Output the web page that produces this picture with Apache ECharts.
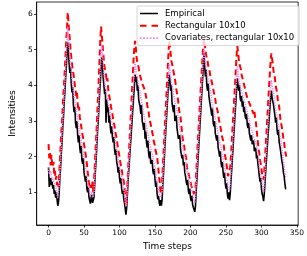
<!DOCTYPE html>
<html>
<head>
<meta charset="utf-8">
<script src="https://cdn.jsdelivr.net/npm/echarts@6/dist/echarts.min.js"></script>
<style>html,body{margin:0;padding:0;background:#fff}#c{width:307px;height:256px}</style>
</head>
<body>
<div id="c"></div>
<script>
// Time steps are 0..335 (index of each value)
var empirical = [
1.7,1.15,1.3,1.4,1.2,1.3,1.1,1.2,0.95,1.05,0.85,1.0,0.8,0.62,0.72,
1.0,1.4,1.7,2.1,2.4,2.8,3.1,3.5,3.8,4.2,4.5,4.9,5.2,
4.95,4.6,4.35,4.5,4.05,3.8,3.95,3.45,3.25,3.4,2.95,2.8,3.0,2.6,2.4,2.6,2.25,2.1,2.3,1.9,1.8,1.95,1.55,1.5,1.3,1.45,1.1,1.0,1.15,0.85,0.8,0.68,0.85,0.95,0.7,0.65,0.85,
1.2,1.6,1.9,2.3,2.7,3.0,3.4,3.8,4.1,4.5,4.8,
4.6,4.2,4.0,3.75,3.9,2.95,3.6,3.25,3.4,2.95,3.15,2.85,2.65,2.85,2.55,2.4,2.55,2.2,2.05,2.2,1.85,1.75,1.55,1.7,1.4,1.25,1.4,1.1,0.95,1.05,0.8,0.7,0.55,0.37,0.55,
0.9,1.3,1.6,1.9,2.2,2.5,2.8,3.1,3.4,3.7,4.0,4.3,
4.1,4.25,3.85,4.0,3.6,3.65,3.4,3.2,3.45,3.0,2.9,2.75,2.95,2.5,2.7,2.4,2.25,2.45,2.1,1.95,2.15,1.8,1.75,1.9,1.6,1.5,1.65,1.35,1.15,1.3,0.95,0.8,0.9,0.7,0.62,0.78,0.62,0.8,
1.2,1.55,1.9,2.3,2.65,3.0,3.35,3.7,4.05,4.3,
4.15,3.85,4.0,3.5,3.45,3.25,3.45,3.0,2.95,3.15,2.8,2.8,2.5,2.45,2.6,2.2,2.15,1.95,2.05,1.75,1.85,1.55,1.45,1.3,1.2,1.35,1.05,0.95,1.1,0.85,0.75,0.9,0.65,0.58,0.6,0.45,0.6,
1.0,1.35,1.7,2.05,2.4,2.75,3.1,3.45,3.8,4.15,4.5,4.9,
4.55,4.25,4.45,4.0,3.85,4.05,3.7,3.55,3.6,3.3,3.15,3.35,2.95,2.85,3.0,2.65,2.55,2.45,2.6,2.25,2.15,2.0,2.15,1.85,1.7,1.85,1.55,1.4,1.55,1.25,1.1,1.25,0.95,0.82,1.0,0.78,0.95,
1.3,1.6,1.95,2.25,2.6,2.9,3.25,3.55,3.9,4.2,
4.0,3.85,4.0,3.65,3.55,3.7,3.4,3.55,3.25,3.4,3.15,3.05,3.2,2.9,2.8,2.95,2.65,2.6,2.45,2.6,2.35,2.3,2.45,2.15,2.1,2.25,1.95,2.05,1.8,1.65,1.45,1.3,1.4,1.1,0.95,0.88,0.75,0.95,
1.25,1.6,1.9,2.2,2.5,2.8,3.1,3.4,3.65,3.85,
3.65,3.6,3.45,3.5,3.15,2.95,3.1,2.75,2.6,2.75,2.4,2.3,2.15,2.0,1.85,1.75,1.55,1.45,1.25,1.1,1.1
];
var rectangular = [
2.35,1.95,2.1,1.75,2.05,1.8,1.7,1.85,1.5,1.6,1.35,1.45,1.2,1.3,1.15,1.5,1.9,2.3,2.7,3.0,3.4,3.8,4.1,4.5,4.9,5.3,5.6,6.05,5.8,5.5,
5.3,5.0,4.8,4.6,4.45,4.5,4.2,4.0,3.9,3.7,3.8,3.5,3.3,3.4,3.1,3.0,2.85,2.9,2.6,2.5,2.35,2.4,2.1,1.95,1.8,1.6,1.4,1.25,1.1,1.05,
1.2,1.1,1.3,1.0,1.3,1.7,2.1,2.5,2.9,3.4,3.8,4.3,4.8,5.3,5.65,5.4,5.2,4.9,4.7,4.5,4.55,4.3,4.1,4.2,3.9,3.75,3.8,3.55,3.4,3.45,
3.2,3.05,3.1,2.85,2.7,2.75,2.5,2.35,2.2,2.25,2.0,1.85,1.9,1.65,1.5,1.55,1.3,1.1,0.85,0.6,0.8,1.2,1.6,2.0,2.4,2.8,3.2,3.6,4.0,4.4,
4.8,5.1,5.25,5.05,4.8,4.65,4.7,4.5,4.35,4.4,4.2,4.25,4.05,4.1,3.95,4.0,3.85,3.9,3.6,3.45,3.5,3.25,3.1,3.15,2.9,2.8,2.85,2.6,2.45,2.5,
2.3,2.15,2.2,2.0,1.8,1.6,1.4,1.2,0.95,1.05,1.3,1.7,2.1,2.5,2.9,3.3,3.7,4.1,4.5,4.9,5.25,5.1,4.9,4.7,4.75,4.5,4.4,4.45,4.2,4.05,
3.9,3.95,3.65,3.5,3.3,3.35,3.1,2.9,2.7,2.5,2.55,2.3,2.15,2.2,1.95,1.7,1.75,1.55,1.45,1.5,1.3,1.2,1.25,1.05,1.1,0.95,0.95,1.1,1.5,1.9,
2.3,2.65,3.0,3.4,3.75,4.1,4.45,4.8,5.1,5.3,5.15,5.0,4.85,4.9,4.7,4.55,4.6,4.4,4.25,4.3,4.1,4.0,3.9,3.95,3.7,3.6,3.45,3.5,3.3,3.2,
3.05,2.95,3.0,2.75,2.6,2.65,2.45,2.3,2.1,2.15,1.9,1.75,1.6,1.45,1.4,1.5,1.7,2.0,2.35,2.7,3.05,3.4,3.75,4.1,4.5,4.85,5.1,4.95,4.75,4.6,
4.65,4.45,4.3,4.35,4.15,4.05,4.1,3.9,3.8,3.85,3.65,3.6,3.7,3.5,3.45,3.55,3.35,3.4,3.3,3.2,3.3,3.1,3.0,2.8,2.6,2.4,2.2,2.1,1.9,1.8,
1.65,1.5,1.45,1.35,1.6,1.95,2.3,2.65,3.0,3.35,3.7,4.05,4.4,4.7,4.9,4.75,4.6,4.4,4.45,4.2,4.0,4.05,3.8,3.6,3.65,3.4,3.2,3.0,2.95,2.8,
2.65,2.5,2.4,2.2,2.1,2.0
];
var covariates = [
1.7,1.5,1.55,1.6,1.45,1.5,1.35,1.4,1.25,1.3,1.15,1.1,0.95,0.85,0.9,1.2,1.55,1.9,2.25,2.6,2.95,3.3,3.7,4.05,4.45,4.85,5.25,5.65,5.4,5.1,
4.8,4.6,4.45,4.2,4.0,3.85,3.7,3.75,3.45,3.3,3.35,3.05,2.9,2.95,2.7,2.55,2.6,2.35,2.2,2.25,2.0,1.85,1.7,1.6,1.45,1.3,1.2,1.1,1.0,0.9,
0.95,1.0,0.85,0.8,0.95,1.35,1.75,2.1,2.5,2.9,3.25,3.65,4.05,4.45,4.85,5.15,4.9,4.6,4.35,4.15,4.0,3.8,3.85,3.6,3.5,3.4,3.45,3.2,3.05,3.1,
2.9,2.75,2.8,2.55,2.45,2.3,2.2,2.05,1.9,1.95,1.75,1.6,1.65,1.45,1.3,1.2,1.1,0.95,0.8,0.6,0.75,1.1,1.45,1.8,2.1,2.45,2.8,3.1,3.45,3.8,
4.1,4.4,4.65,4.45,4.3,4.2,4.25,4.0,3.9,3.8,3.65,3.7,3.45,3.35,3.2,3.25,3.0,3.05,2.85,2.7,2.75,2.55,2.4,2.45,2.25,2.15,2.2,2.0,1.85,1.9,
1.7,1.5,1.55,1.3,1.15,1.1,0.95,0.85,0.9,0.85,1.0,1.4,1.75,2.1,2.5,2.85,3.2,3.55,3.9,4.25,4.6,4.45,4.25,4.3,4.0,3.9,3.75,3.8,3.55,3.45,
3.5,3.3,3.2,3.0,2.9,2.95,2.7,2.6,2.4,2.3,2.2,2.25,2.0,1.9,1.75,1.6,1.65,1.45,1.35,1.4,1.2,1.1,1.15,0.95,0.85,0.8,0.7,0.85,1.25,1.6,
1.95,2.3,2.65,3.0,3.35,3.7,4.05,4.4,4.75,5.05,4.85,4.6,4.65,4.4,4.25,4.3,4.1,3.95,3.85,3.75,3.55,3.6,3.35,3.25,3.3,3.05,2.95,2.85,2.9,2.65,
2.55,2.4,2.45,2.25,2.1,2.15,1.95,1.8,1.85,1.6,1.45,1.5,1.3,1.15,1.2,1.05,1.2,1.55,1.85,2.2,2.5,2.85,3.15,3.5,3.85,4.2,4.55,4.4,4.2,4.25,
4.0,3.9,3.95,3.75,3.8,3.6,3.65,3.5,3.4,3.45,3.25,3.15,3.2,3.0,2.95,2.8,2.85,2.7,2.65,2.7,2.5,2.45,2.5,2.3,2.3,2.1,1.95,1.75,1.6,1.65,
1.4,1.25,1.15,1.0,1.2,1.5,1.85,2.15,2.45,2.8,3.1,3.4,3.7,3.95,4.15,4.0,3.9,3.8,3.75,3.5,3.3,3.35,3.1,2.95,3.0,2.75,2.6,2.5,2.3,2.2,
2.05,1.9,1.75,1.6,1.45,1.4
];
var xTicks = [0, 50, 100, 150, 200, 250, 300, 350];
var yTicks = [1, 2, 3, 4, 5, 6];
var seriesNames = ['Empirical', 'Rectangular 10x10', 'Covariates, rectangular 10x10'];

function pairs(arr) { return arr.map(function (v, i) { return [i, v]; }); }

// legend line samples (solid, dashed, dotted) as filled path glyphs
var iconSolid = 'path://M0,0h18v1.5h-18z';
var iconDashed = 'path://M0,0h6.5v2h-6.5zM11.5,0h6.5v2h-6.5z';
var iconDotted = 'path://M0,0h1.5v1.5h-1.5zM3,0h1.5v1.5h-1.5zM6,0h1.5v1.5h-1.5zM9,0h1.5v1.5h-1.5zM12,0h1.5v1.5h-1.5zM15,0h1.5v1.5h-1.5z';

var font = 'DejaVu Sans';
var chart = echarts.init(document.getElementById('c'), null, { renderer: 'canvas' });
chart.setOption({
  animation: false,
  backgroundColor: '#fff',
  textStyle: { fontFamily: font },
  grid: { left: 20, right: 8, top: 2, bottom: 22, show: true, borderColor: '#000', borderWidth: 0.8, backgroundColor: 'transparent' },
  legend: {
    orient: 'vertical', left: 137, top: 6,
    padding: [3, 5, 3, 3],
    itemWidth: 18, itemHeight: 8, itemGap: 3.3,
    symbolKeepAspect: true,
    backgroundColor: 'rgba(255,255,255,0.8)', borderColor: '#cccccc', borderWidth: 0.8, borderRadius: 2,
    textStyle: { fontFamily: font, fontSize: 8.5, color: '#000', padding: [0, 0, 0, 2] },
    data: [
      { name: seriesNames[0], icon: iconSolid, itemStyle: { color: '#000000' } },
      { name: seriesNames[1], icon: iconDashed, itemStyle: { color: '#ff0000' } },
      { name: seriesNames[2], icon: iconDotted, itemStyle: { color: '#ee82ee' } }
    ]
  },
  xAxis: {
    type: 'value', min: -16.75, max: 351.75,
    name: 'Time steps', nameLocation: 'middle', nameGap: 17,
    nameTextStyle: { fontFamily: font, fontSize: 9, color: '#000' },
    axisLine: { show: true, onZero: false, lineStyle: { color: '#000', width: 0.8 } },
    axisTick: { show: true, length: 2.5, lineStyle: { color: '#000', width: 0.8 }, customValues: xTicks },
    axisLabel: { fontFamily: font, fontSize: 7.5, color: '#000', margin: 4, customValues: xTicks },
    splitLine: { show: false }
  },
  yAxis: {
    type: 'value', min: 0.08, max: 6.34,
    name: 'Intensities', nameLocation: 'middle', nameGap: 19, nameRotate: 90,
    nameTextStyle: { fontFamily: font, fontSize: 9, color: '#000' },
    axisLine: { show: true, onZero: false, lineStyle: { color: '#000', width: 0.8 } },
    axisTick: { show: true, length: 2.5, lineStyle: { color: '#000', width: 0.8 }, customValues: yTicks },
    axisLabel: { fontFamily: font, fontSize: 7.5, color: '#000', margin: 4, customValues: yTicks },
    splitLine: { show: false }
  },
  series: [
    { name: seriesNames[0], type: 'line', data: pairs(empirical), showSymbol: false, symbol: 'none',
      lineStyle: { color: '#000000', width: 1.6 }, itemStyle: { color: '#000000' } },
    { name: seriesNames[1], type: 'line', data: pairs(rectangular), showSymbol: false, symbol: 'none',
      lineStyle: { color: '#ff0000', width: 2, type: [6, 3.5] }, itemStyle: { color: '#ff0000' } },
    { name: seriesNames[2], type: 'line', data: pairs(covariates), showSymbol: false, symbol: 'none',
      lineStyle: { color: '#ee82ee', width: 1.6, type: [1.2, 1.2] }, itemStyle: { color: '#ee82ee' } }
  ]
});
</script>
</body>
</html>
